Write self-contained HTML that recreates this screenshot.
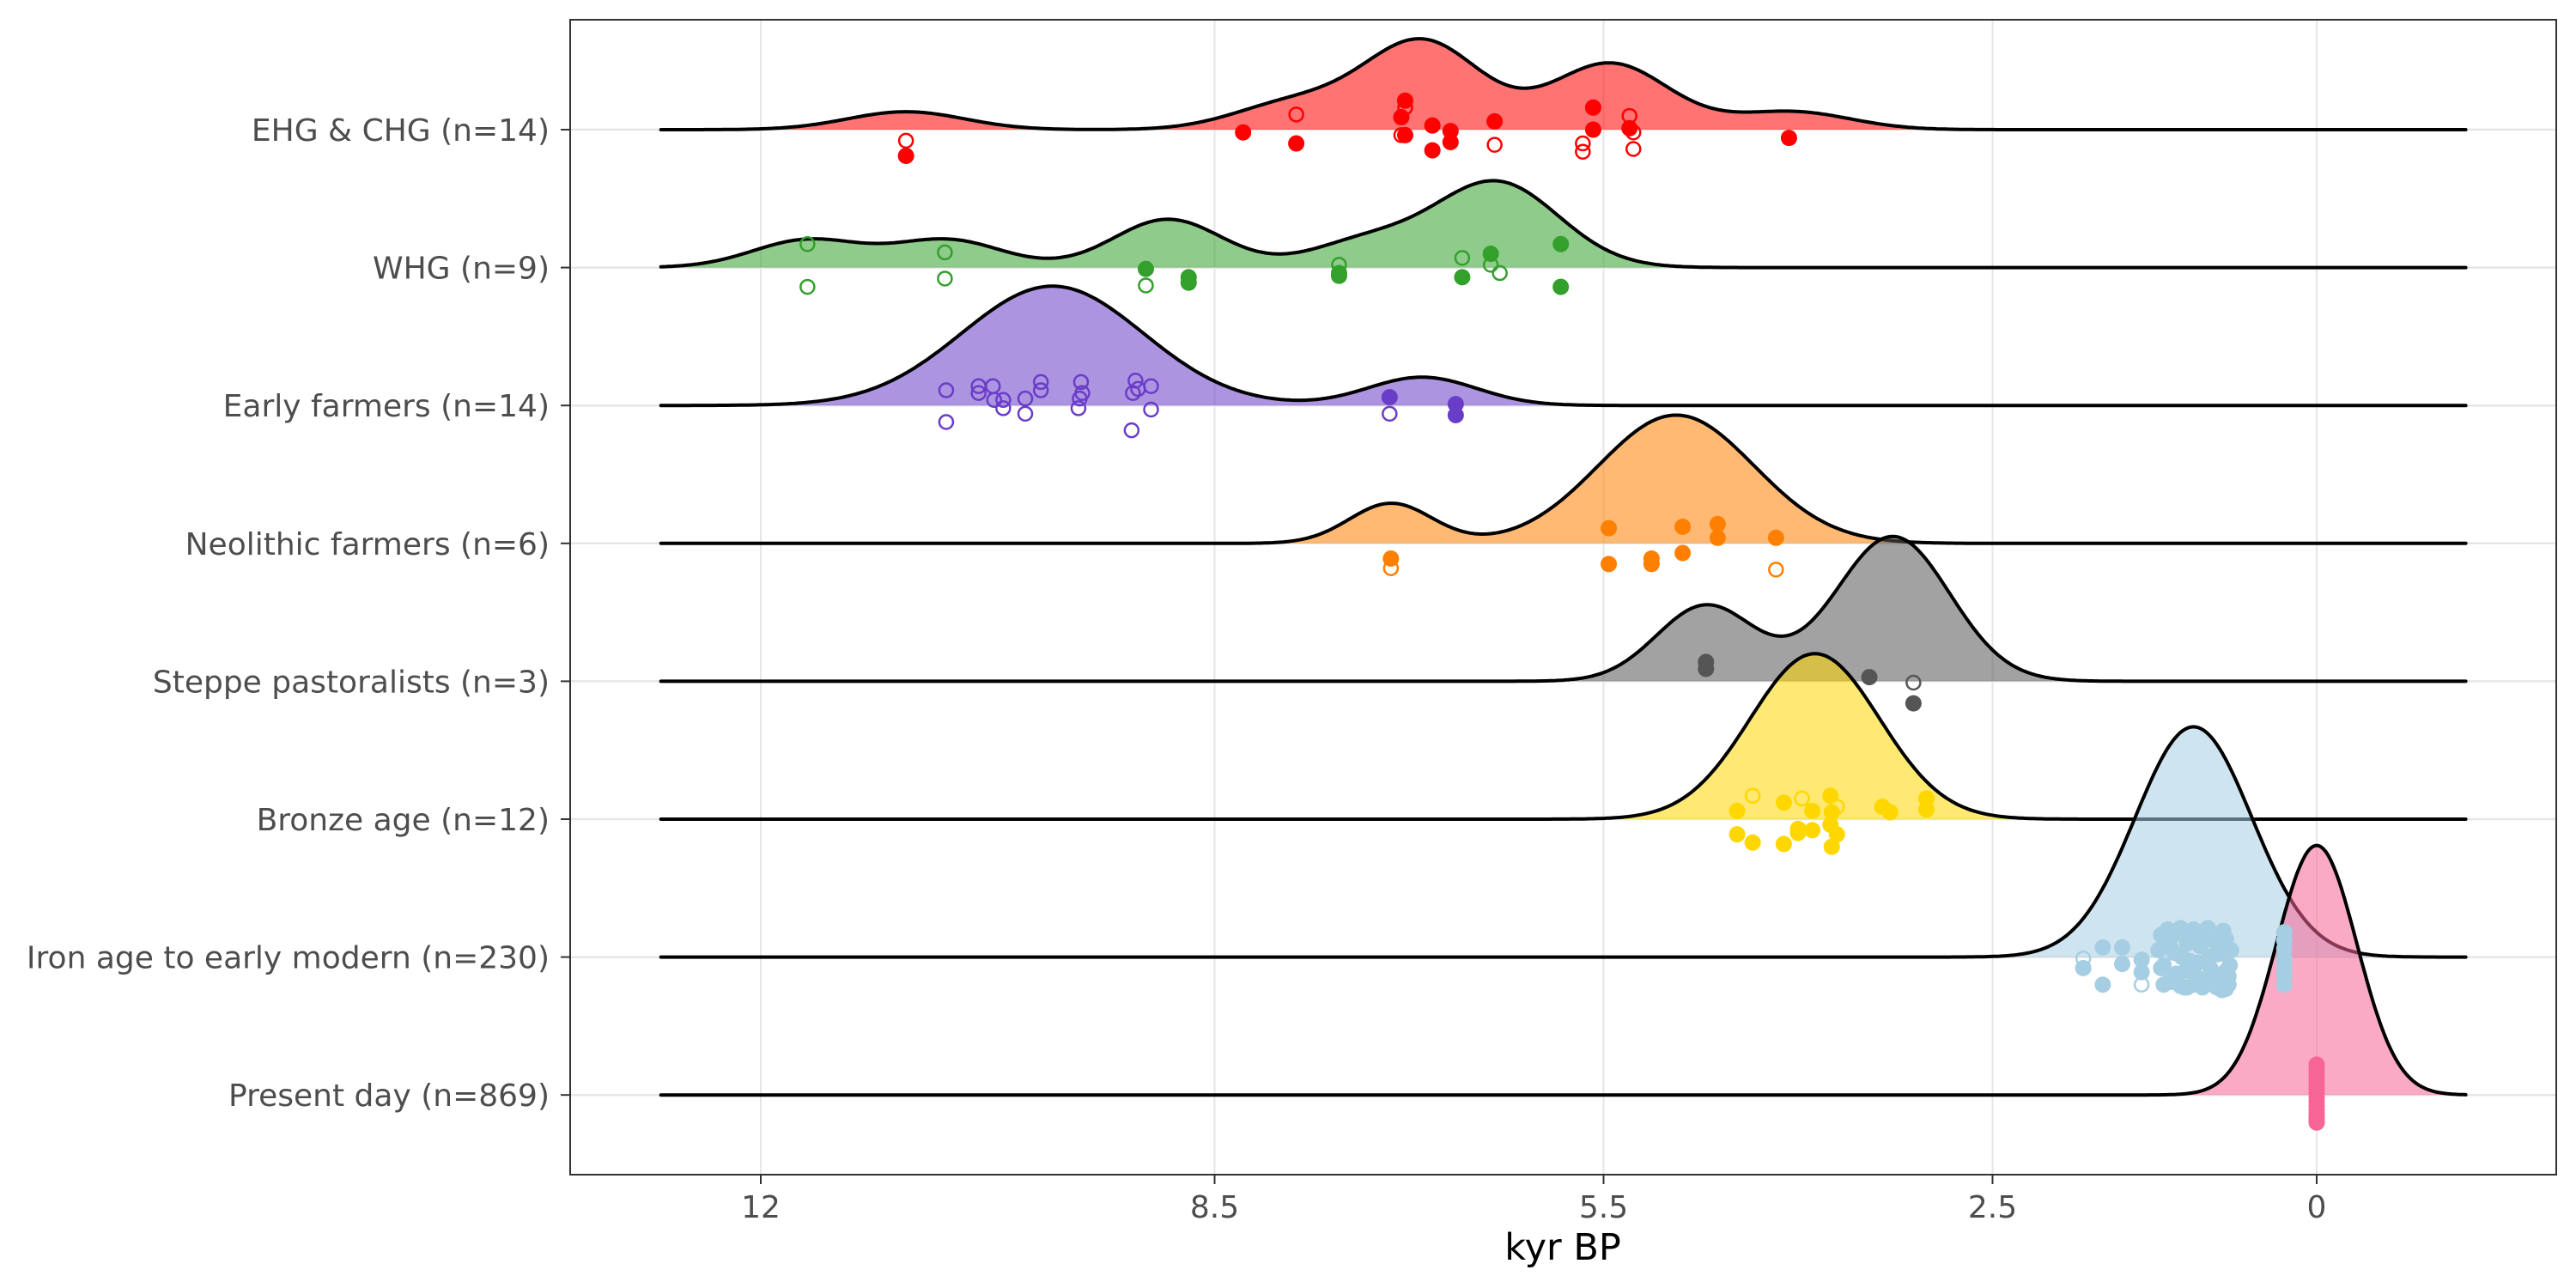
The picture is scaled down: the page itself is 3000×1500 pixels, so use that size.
<!DOCTYPE html>
<html><head><meta charset="utf-8"><style>
html,body{margin:0;padding:0;background:#fff;}
svg{display:block;font-family:"DejaVu Sans","Liberation Sans",sans-serif;}
</style></head><body>
<svg id="chart" width="3000" height="1500" viewBox="0 0 3000 1500" xmlns="http://www.w3.org/2000/svg">
<rect x="0" y="0" width="3000" height="1500" fill="#fff"/>
<g id="grid"></g>
<g id="ridges"></g>
<g id="points"></g>
<rect x="664" y="23" width="2313" height="1345" fill="none" stroke="#333" stroke-width="2"/>
<g id="axes"></g>
<text x="1820" y="1467" font-size="43" text-anchor="middle" fill="#000">kyr BP</text>
</svg>
<script>
const groupNames = ["EHG & CHG (n=14)","WHG (n=9)","Early farmers (n=14)","Neolithic farmers (n=6)","Steppe pastoralists (n=3)","Bronze age (n=12)","Iron age to early modern (n=230)","Present day (n=869)"];
const groupColors = ["#ff0000","#33a02c","#6a3dc8","#ff7f00","#555555","#ffd700","#a6cee3","#f76596"];
const xTicks = [12, 8.5, 5.5, 2.5, 0];
const xTickLabels = ["12","8.5","5.5","2.5","0"];

const ehgCenters = [10.88, 7.9, 6.9, 5.45, 4.05];
const ehgAmps = [0.13, 0.19, 0.64, 0.48, 0.13];
const ehgSds = [0.45, 0.45, 0.45, 0.45, 0.45];
const whgCenters = [11.64, 10.56, 8.86, 7.35, 6.33];
const whgAmps = [0.2, 0.2, 0.35, 0.18, 0.62];
const whgSds = [0.42, 0.42, 0.42, 0.42, 0.48];
const earlyCenters = [9.75, 6.9];
const earlyAmps = [0.865, 0.205];
const earlySds = [0.70, 0.42];
const neoCenters = [7.14, 4.94];
const neoAmps = [0.29, 0.93];
const neoSds = [0.32, 0.6];
const steppeCenters = [4.71, 3.27];
const steppeAmps = [0.55, 1.05];
const steppeSds = [0.38, 0.44];
const bronzeCenters = [3.87];
const bronzeAmps = [1.2];
const bronzeSds = [0.5];
const ironCenters = [0.95];
const ironAmps = [1.67];
const ironSds = [0.45];
const presentCenters = [0];
const presentAmps = [1.81];
const presentSds = [0.31];

const ehgValues = [10.88,10.88,8.28,7.87,7.87,7.03,7.03,7.06,7.06,7.03,6.82,6.82,6.68,6.68,6.34,6.34,5.66,5.66,5.58,5.58,5.30,5.30,5.27,5.27,4.07];
const ehgJitter = [0.08,0.19,0.02,-0.11,0.10,-0.21,-0.16,-0.09,0.04,0.04,-0.03,0.15,0.01,0.09,-0.06,0.11,0.10,0.16,-0.16,0,-0.10,-0.01,0.02,0.14,0.06];
const ehgOpen = [1,0,0,1,0,0,1,0,1,0,0,0,0,0,0,1,1,1,0,0,1,0,1,1,0];
const whgValues = [11.64,11.64,10.58,10.58,9.03,9.03,8.70,8.70,7.54,7.54,7.54,6.59,6.59,6.37,6.37,6.30,5.83,5.83];
const whgJitter = [-0.17,0.14,-0.11,0.08,0.01,0.13,0.07,0.11,-0.02,0.04,0.06,-0.07,0.07,-0.10,-0.02,0.04,-0.17,0.14];
const whgOpen = [1,1,1,1,0,1,0,0,1,0,0,1,0,0,1,1,0,0];
const earlyValues = [10.57,10.57,10.32,10.32,10.21,10.20,10.13,10.13,9.96,9.96,9.84,9.84,9.55,9.53,9.52,9.54,9.14,9.13,9.11,9.09,8.99,8.99,7.15,7.15,6.64,6.64];
const earlyJitter = [-0.11,0.12,-0.14,-0.09,-0.14,-0.04,-0.04,0.02,-0.05,0.06,-0.17,-0.11,0.02,-0.17,-0.09,-0.05,0.18,-0.09,-0.18,-0.12,-0.14,0.03,-0.06,0.06,-0.01,0.07];
const earlyOpen = [1,1,1,1,1,1,1,1,1,1,1,1,1,1,1,1,1,1,1,1,1,1,0,1,0,0];
const neoValues = [7.14,7.14,5.46,5.46,5.13,5.13,4.89,4.89,4.62,4.62,4.17,4.17];
const neoJitter = [0.11,0.18,-0.11,0.15,0.11,0.15,-0.12,0.07,-0.14,-0.04,-0.04,0.19];
const neoOpen = [0,1,0,0,0,0,0,0,0,0,0,1];
const steppeValues = [4.71,4.71,3.45,3.11,3.11];
const steppeJitter = [-0.14,-0.09,-0.03,0.01,0.16];
const steppeOpen = [0,0,0,1,0];
const bronzeValues = [4.47,4.47,4.35,4.35,4.11,4.11,3.97,3.89,3.89,4.0,4.0,3.75,3.74,3.75,3.70,3.70,3.74,3.35,3.29,3.01,3.01];
const bronzeJitter = [-0.06,0.11,-0.17,0.17,-0.12,0.18,-0.15,-0.06,0.08,0.07,0.10,-0.17,-0.05,0.04,-0.09,0.11,0.20,-0.09,-0.05,-0.15,-0.07];
const bronzeOpen = [0,0,1,0,0,0,1,0,0,0,0,0,0,0,1,0,0,0,0,0,0];
const ironValues = [1.80,1.80,1.65,1.65,1.50,1.50,1.35,1.35,1.35,
 1.22,1.20,1.18,1.15,1.12,1.10,1.08,1.05,1.02,1.00,0.98,0.95,0.92,0.90,0.88,0.85,0.82,0.80,0.78,0.76,0.74,0.72,0.70,0.68,0.66,
 1.20,1.16,1.12,1.08,1.04,1.00,0.96,0.92,0.88,0.84,0.80,0.76,0.73,0.70,0.67,
 1.18,1.13,1.07,1.01,0.95,0.89,0.83,0.77,0.72,0.68,
 1.15,1.05,0.95,0.85,0.75,0.70,
 0.25,0.25,0.25,0.25,0.25,0.25,0.25];
const ironJitter = [0.01,0.08,-0.07,0.20,-0.07,0.05,0.02,0.11,0.20,
 -0.05,-0.16,0.06,-0.20,0.18,-0.03,0.12,-0.21,0.22,-0.10,0.03,-0.20,0.15,-0.08,0.22,-0.18,0.08,-0.12,0.20,-0.02,0.15,-0.19,0.10,0.20,-0.05,
 0.08,-0.10,0.14,-0.17,0.00,0.22,-0.14,0.04,0.18,-0.21,0.12,-0.06,0.24,-0.13,0.06,
 0.20,-0.08,-0.19,0.10,0.20,-0.11,0.00,0.22,-0.16,0.14,
 -0.15,0.21,0.09,-0.20,0.03,0.23,
 -0.18,-0.12,-0.06,0.01,0.07,0.13,0.20];
const ironOpen = [1,0,0,0,0,0,0,0,1,
 0,0,0,0,0,0,0,0,0,0,0,0,0,0,0,0,0,0,0,0,0,0,0,0,0,
 0,0,0,0,0,0,0,0,0,0,0,0,0,0,0,
 0,0,0,0,0,0,0,0,0,0,
 0,0,0,0,1,0,
 0,0,0,0,0,0,0];
const presentValues = [0,0,0,0,0,0,0,0,0,0,0,0,0,0,0,0];
const presentJitter = [-0.22,-0.19,-0.16,-0.13,-0.10,-0.07,-0.04,-0.01,0.02,0.05,0.08,0.11,0.14,0.16,0.18,0.20];
const presentOpen = [0,0,0,0,0,0,0,0,0,0,0,0,0,0,0,0];

const X0 = 2698, PXU = 151, ROW0 = 151, ROWH = 160.6;
const VMIN = -1.15, VMAX = 12.77;
function xs(v){ return X0 - PXU * v; }
function ys(i, r){ return ROW0 + ROWH * i - ROWH * r; }
const NS = "http://www.w3.org/2000/svg";
function mk(tag, parent){ const e = document.createElementNS(NS, tag); parent.appendChild(e); return e; }

const comps = [[ehgCenters,ehgAmps,ehgSds],[whgCenters,whgAmps,whgSds],[earlyCenters,earlyAmps,earlySds],[neoCenters,neoAmps,neoSds],[steppeCenters,steppeAmps,steppeSds],[bronzeCenters,bronzeAmps,bronzeSds],[ironCenters,ironAmps,ironSds],[presentCenters,presentAmps,presentSds]];
const pts = [[ehgValues,ehgJitter,ehgOpen],[whgValues,whgJitter,whgOpen],[earlyValues,earlyJitter,earlyOpen],[neoValues,neoJitter,neoOpen],[steppeValues,steppeJitter,steppeOpen],[bronzeValues,bronzeJitter,bronzeOpen],[ironValues,ironJitter,ironOpen],[presentValues,presentJitter,presentOpen]];
const slugs = ["ehg-chg","whg","early-farmers","neolithic-farmers","steppe-pastoralists","bronze-age","iron-age","present-day"];

const grid = document.getElementById('grid');
const axes = document.getElementById('axes');
xTicks.forEach((t, k) => {
  const g = mk('line', grid);
  
  
  g.setAttribute('x1', xs(t)); g.setAttribute('x2', xs(t));
  g.setAttribute('y1', 23); g.setAttribute('y2', 1368);
  g.setAttribute('stroke', '#e6e6e6'); g.setAttribute('stroke-width', 2);
  const tk = mk('line', axes);
  
  
  tk.setAttribute('x1', xs(t)); tk.setAttribute('x2', xs(t));
  tk.setAttribute('y1', 1368); tk.setAttribute('y2', 1379);
  tk.setAttribute('stroke', '#333'); tk.setAttribute('stroke-width', 2);
  const tl = mk('text', axes);
  
  
  tl.setAttribute('x', xs(t)); tl.setAttribute('y', 1418);
  tl.setAttribute('font-size', 36); tl.setAttribute('text-anchor', 'middle'); tl.setAttribute('fill', '#4d4d4d');
  tl.textContent = xTickLabels[k];
});
groupNames.forEach((n, i) => {
  const y = ys(i, 0);
  const g = mk('line', grid);
  
  
  g.setAttribute('x1', 664); g.setAttribute('x2', 2977); g.setAttribute('y1', y); g.setAttribute('y2', y);
  g.setAttribute('stroke', '#e6e6e6'); g.setAttribute('stroke-width', 2.5);
  const tk = mk('line', axes);
  
  
  tk.setAttribute('x1', 653); tk.setAttribute('x2', 664); tk.setAttribute('y1', y); tk.setAttribute('y2', y);
  tk.setAttribute('stroke', '#333'); tk.setAttribute('stroke-width', 2);
  const tl = mk('text', axes);
  
  
  tl.setAttribute('x', 640); tl.setAttribute('y', y + 13);
  tl.setAttribute('font-size', 36); tl.setAttribute('text-anchor', 'end'); tl.setAttribute('fill', '#4d4d4d');
  tl.textContent = n;
});

const ridges = document.getElementById('ridges');
comps.forEach((c, i) => {
  const [cs, as, ss] = c;
  const coords = [];
  for (let v = VMAX; v >= VMIN - 1e-9; v -= 0.02) {
    let h = 0;
    for (let k = 0; k < cs.length; k++) h += as[k] * Math.exp(-0.5 * Math.pow((v - cs[k]) / ss[k], 2));
    coords.push([xs(v), ys(i, h)]);
  }
  const line = coords.map((p, k) => (k ? 'L' : 'M') + p[0].toFixed(1) + ' ' + p[1].toFixed(1)).join(' ');
  const fill = mk('path', ridges);
  
  
  fill.setAttribute('d', line + ' L' + xs(VMIN) + ' ' + ys(i, 0) + ' L' + xs(VMAX) + ' ' + ys(i, 0) + ' Z');
  fill.setAttribute('fill', groupColors[i]); fill.setAttribute('fill-opacity', 0.55);
  const ln = mk('path', ridges);
  
  
  ln.setAttribute('d', line);
  ln.setAttribute('fill', 'none'); ln.setAttribute('stroke', '#000'); ln.setAttribute('stroke-width', 4);
  ln.setAttribute('stroke-linecap', 'round'); ln.setAttribute('stroke-linejoin', 'round');
});

const pg = document.getElementById('points');
pts.forEach((p, i) => {
  const [vals, jit, op] = p;
  vals.forEach((v, k) => {
    const c = mk('circle', pg);
    
    
    c.setAttribute('cx', xs(v)); c.setAttribute('cy', ys(i, -jit[k]));
    if (op[k]) { c.setAttribute('r', 8); c.setAttribute('fill', 'none'); c.setAttribute('stroke', groupColors[i]); c.setAttribute('stroke-width', 2.5); }
    else { c.setAttribute('r', 9.5); c.setAttribute('fill', groupColors[i]); }
  });
});
</script>
</body></html>
